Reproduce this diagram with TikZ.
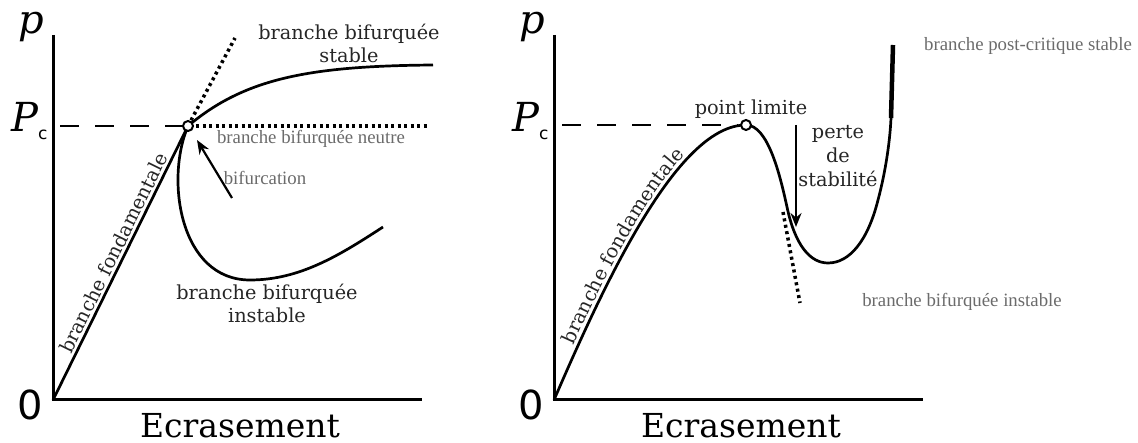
\documentclass[tikz,border=0pt]{standalone}
\usepackage{fontspec}
\setmainfont{DejaVu Serif}
\newfontfamily\notefont{Liberation Serif}
\newfontfamily\zerofont{DejaVu Sans}
\usetikzlibrary{arrows.meta,decorations.text}

\begin{document}
\begin{tikzpicture}[x=1pt,y=-1pt,
    axis/.style={line width=3pt},
    branch/.style={line width=2.7pt},
    tangent/.style={line width=3.5pt, dash pattern=on 3pt off 3.5pt},
    guide/.style={line width=2.6pt, dash pattern=on 19pt off 16pt},
    label/.style={font=\fontsize{19.3}{23}\selectfont, text=black!85, anchor=base, inner sep=0pt},
    note/.style={font=\notefont\fontsize{18.8}{22}\selectfont, text=black!58, anchor=base, inner sep=0pt},
    big/.style={font=\fontsize{33}{40}\selectfont, anchor=base, inner sep=0pt},
    sym/.style={font=\itshape\fontsize{40}{48}\selectfont, anchor=base, inner sep=0pt},
    zero/.style={font=\zerofont\fontsize{40}{48}\selectfont, anchor=base, inner sep=0pt},
    pin/.style={line width=2.2pt, -{Stealth[length=14pt,width=11pt]}},
    marker/.style={circle, draw, fill=white, line width=2pt, inner sep=0pt, minimum size=10pt}]
\useasboundingbox (0,0) rectangle (1138,443);

% bifurcation symetrique
\coordinate (O1) at (53,400);
\coordinate (B1) at (188,126);
\coordinate (bifTail) at (232,198);
\coordinate (bifTip) at (197,140);
\draw[axis] (53,35) -- (O1) -- (422,400);
\draw[guide] (60,126) -- (183,126);
\draw[tangent] (196,126) -- (427,126);
\draw[tangent] (B1) -- (235,38);
\draw[branch] (O1) -- (B1)
    node[pos=.52, sloped, above=2pt, font=\fontsize{19.3}{23}\selectfont, text=black!85, inner sep=0pt] (fond1) {branche fondamentale};
\draw[branch] (B1) .. controls (245,78) and (310,66) .. (433,65);
\draw[branch] (B1) .. controls (165,180) and (180,280) .. (250,280)
    .. controls (300,280) and (340,255) .. (383,227);
\node[marker] (bif) at (B1) {};
\draw[pin] (bifTail) -- (bifTip);

\node[sym] (p1) at (31,34) {p};
\node[sym, anchor=base west] (P1) at (11,132) {P\raisebox{-8pt}{\zerofont\upshape\fontsize{17}{20}\selectfont c}};
\node[zero] (zero1) at (30,420) {0};
\node[big] (ecr1) at (240,437) {Ecrasement};
\node[label] (stab1) at (349,40) {branche bifurquée};
\node[label] (stab2) at (349,63) {stable};
\node[label] (inst1) at (267,300) {branche bifurquée};
\node[label] (inst2) at (267,323) {instable};
\node[note] (neutre) at (311,144) {branche bifurquée neutre};
\node[note] (bifnote) at (265,185) {bifurcation};

% point limite
\coordinate (O2) at (554,400);
\coordinate (L2) at (746,125);
\coordinate (perteTop) at (796,125);
\coordinate (perteTip) at (796,227);
\draw[axis] (554,35) -- (O2) -- (923,400);
\draw[guide] (562,125) -- (738,125);
\draw[branch] (O2) .. controls (610,270) and (680,125) .. (L2)
    .. controls (768,125) and (780,175) .. (787,207)
    .. controls (795,245) and (810,263) .. (828,263)
    .. controls (850,263) and (868,240) .. (878,200)
    .. controls (886,170) and (890,140) .. (891,118);
\draw[line width=4.5pt] (891,118) -- (893,45);
\draw[tangent] (783,212) -- (800,303);
\path[decorate, decoration={text along path, raise=4pt,
    text align={left indent=58pt},
    text={|\fontsize{19.3}{23}\selectfont\color{black!85}|branche fondamentale}}]
    (O2) .. controls (610,270) and (680,125) .. (L2);
\node[marker] (lim) at (L2) {};
\draw[pin] (perteTop) -- (perteTip);

\node[sym] (p2) at (532,34) {p};
\node[sym, anchor=base west] (P2) at (512,132) {P\raisebox{-8pt}{\zerofont\upshape\fontsize{17}{20}\selectfont c}};
\node[zero] (zero2) at (531,420) {0};
\node[big] (ecr2) at (741,437) {Ecrasement};
\node[label] (limite) at (751,115) {point limite};
\node[label] (perte1) at (838,139) {perte};
\node[label] (perte2) at (838,163) {de};
\node[label] (perte3) at (838,187) {stabilité};
\node[note] (postcrit) at (1028,51) {branche post-critique stable};
\node[note] (instnote) at (962,307) {branche bifurquée instable};
\end{tikzpicture}
\end{document}
